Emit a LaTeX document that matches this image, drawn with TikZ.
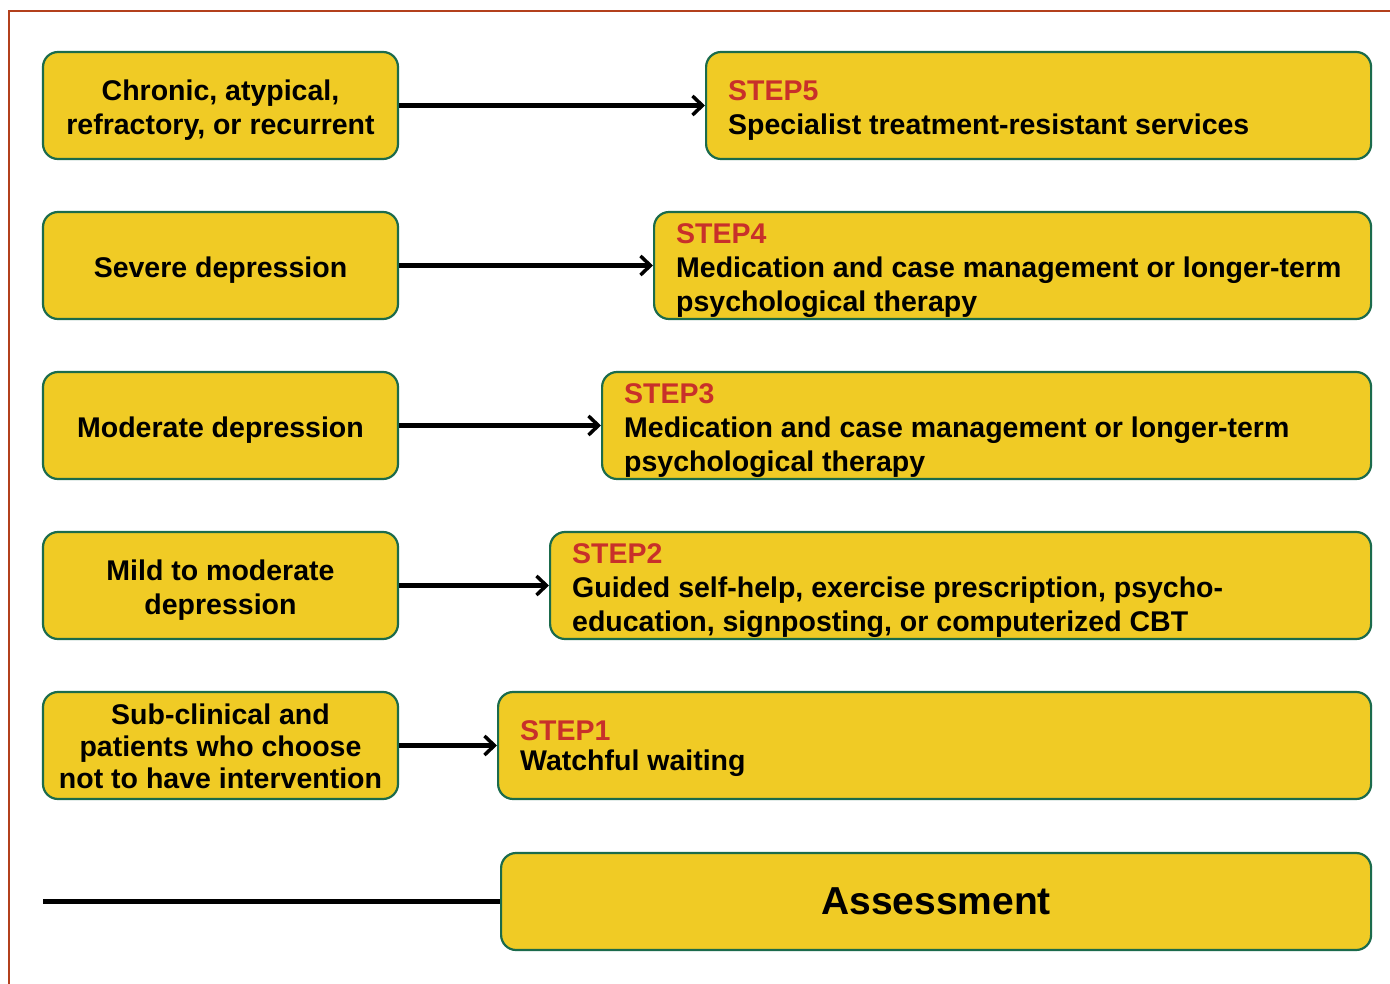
\documentclass[tikz,border=0pt]{standalone}
\usepackage{fontspec}
\setmainfont{Liberation Sans}
\usetikzlibrary{arrows.meta}
\definecolor{boxfill}{HTML}{F0CB25}
\definecolor{boxline}{HTML}{1B6B4C}
\definecolor{steptext}{HTML}{C8302A}
\definecolor{framecol}{HTML}{B3401C}
\tikzset{
  box/.style={draw=boxline, line width=2.2pt, fill=boxfill, rounded corners=15pt, inner sep=0pt},
  leftbox/.style={box, minimum width=355pt, minimum height=107pt},
  rightbox/.style={box, minimum height=107pt, anchor=west},
  txt/.style={inner sep=0pt, font=\fontsize{28.5}{34}\selectfont\bfseries},
  ltxt/.style={txt, align=center},
  rtxt/.style={txt, align=left, anchor=west},
  conn/.style={line width=4.5pt, -{Straight Barb[length=10pt,width=19pt,line width=3.5pt]}},
  plain/.style={line width=4.5pt},
  framel/.style={draw=framecol, line width=2.5pt}
}
\newcommand{\stepl}[1]{\textcolor{steptext}{#1}}
\begin{document}
\begin{tikzpicture}[x=1pt,y=-1pt]
\useasboundingbox (0,0) rectangle (1390,984);
\draw[framel] (9,984) -- (9,11) -- (1390,11);

% left boxes
\node[leftbox] (l5) at (220.5,105.5) {};
\node[leftbox] (l4) at (220.5,265.5) {};
\node[leftbox] (l3) at (220.5,425.5) {};
\node[leftbox] (l2) at (220.5,585.5) {};
\node[leftbox] (l1) at (220.5,745.5) {};
\node[ltxt] (l5t) at (220.5,110.5) {Chronic, atypical,\\refractory, or recurrent};
\node[ltxt] (l4t) at (220.5,270.5) {Severe depression};
\node[ltxt] (l3t) at (220.5,430.5) {Moderate depression};
\node[ltxt] (l2t) at (220.5,590.5) {Mild to moderate\\depression};
\node[ltxt, font=\fontsize{28.5}{32}\selectfont\bfseries] (l1t) at (220.5,746) {Sub-clinical and\\patients who choose\\not to have intervention};

% right boxes
\node[rightbox, minimum width=665pt] (r5) at (705,105.5) {};
\node[rightbox, minimum width=717pt] (r4) at (653,265.5) {};
\node[rightbox, minimum width=769pt] (r3) at (601,425.5) {};
\node[rightbox, minimum width=821pt] (r2) at (549,585.5) {};
\node[rightbox, minimum width=873pt] (r1) at (497,745.5) {};
\node[rtxt] (r5t) at (728,110.5) {\stepl{STEP5}\\Specialist treatment-resistant services};
\node[rtxt] (r4t) at (676,270.5) {\stepl{STEP4}\\Medication and case management or longer-term\\psychological therapy};
\node[rtxt] (r3t) at (624,430.5) {\stepl{STEP3}\\Medication and case management or longer-term\\psychological therapy};
\node[rtxt] (r2t) at (572,590.5) {\stepl{STEP2}\\Guided self-help, exercise prescription, psycho-\\education, signposting, or computerized CBT};
\node[rtxt, font=\fontsize{28.5}{30}\selectfont\bfseries] (r1t) at (520,748.5) {\stepl{STEP1}\\Watchful waiting};

% assessment
\node[box, anchor=west, minimum width=870pt, minimum height=97pt, font=\fontsize{39}{42}\selectfont\bfseries] (as) at (500,901.5) {Assessment};
\coordinate (start) at (43,901.5);

\draw[conn] (l5.east) -- (r5.west);
\draw[conn] (l4.east) -- (r4.west);
\draw[conn] (l3.east) -- (r3.west);
\draw[conn] (l2.east) -- (r2.west);
\draw[conn] (l1.east) -- (r1.west);
\draw[plain] (start) -- (as.west);
\end{tikzpicture}
\end{document}
